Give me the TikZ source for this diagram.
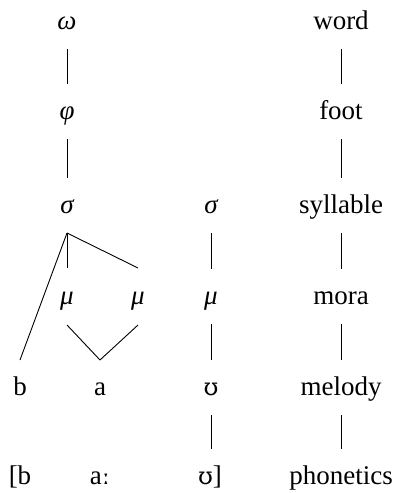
\documentclass[tikz,border=0pt]{standalone}
\usepackage{fontspec}
\usetikzlibrary{calc}
\setmainfont{Liberation Serif}
\newfontfamily\ipafont{DejaVu Serif}
\begin{document}
\begin{tikzpicture}[x=1pt,y=-1pt,
  lab/.style={anchor=base,inner sep=0pt,font=\fontsize{27}{30}\selectfont},
  gr/.style={lab,font=\fontsize{27}{30}\selectfont\itshape},
  ln/.style={line width=0.9pt}]
\useasboundingbox (0,0) rectangle (400,493);
% tree column
\node[gr] (w) at (67,29) {ω};
\node[gr] (f) at (67,119) {φ};
\node[gr] (s1) at (67,213) {σ};
\node[gr] (s2) at (211,213) {σ};
\node[gr] (m1) at (67,304) {μ};
\node[gr] (m2) at (138,304) {μ};
\node[gr] (m3) at (211,304) {μ};
\node[lab] (b) at (20,395) {b};
\node[lab] (a) at (100,395) {a};
\node[lab] (u) at (211,395) {{\ipafont\fontsize{24}{30}\selectfont ʊ}};
\node[lab] (pb) at (20,484) {[b};
\node[lab] (pa) at (100,484) {a{\ipafont\fontsize{24}{30}\selectfont ː}};
\node[lab] (pu) at (210,484) {{\ipafont\fontsize{24}{30}\selectfont ʊ}]};
% labels
\node[lab] (lw) at (341,29) {word};
\node[lab] (lf) at (341,119) {foot};
\node[lab] (ls) at (341,213) {syllable};
\node[lab] (lm) at (341,304) {mora};
\node[lab] (ld) at (341,395) {melody};
\node[lab] (lp) at (341,484) {phonetics};
% connectors
\foreach \p/\q in {w/f,f/s1,s2/m3,m3/u,lw/lf,lf/ls,ls/lm,lm/ld,ld/lp}
  \draw[ln] ([yshift=-20pt]\p.base) -- ([yshift=35pt]\q.base);
\draw[ln] ([yshift=-20pt]u.base) -- ($(u.base |- pu.base)+(0,-35)$);
\draw[ln] ([yshift=-20pt]s1.base) -- ([yshift=35pt]b.base);
\draw[ln] ([yshift=-20pt]s1.base) -- ([yshift=36pt]m1.base);
\draw[ln] ([yshift=-20pt]s1.base) -- ([yshift=36pt]m2.base);
\draw[ln] ([yshift=-21pt]m1.base) -- ([yshift=35pt]a.base);
\draw[ln] ([yshift=-21pt]m2.base) -- ([yshift=35pt]a.base);
\end{tikzpicture}
\end{document}
